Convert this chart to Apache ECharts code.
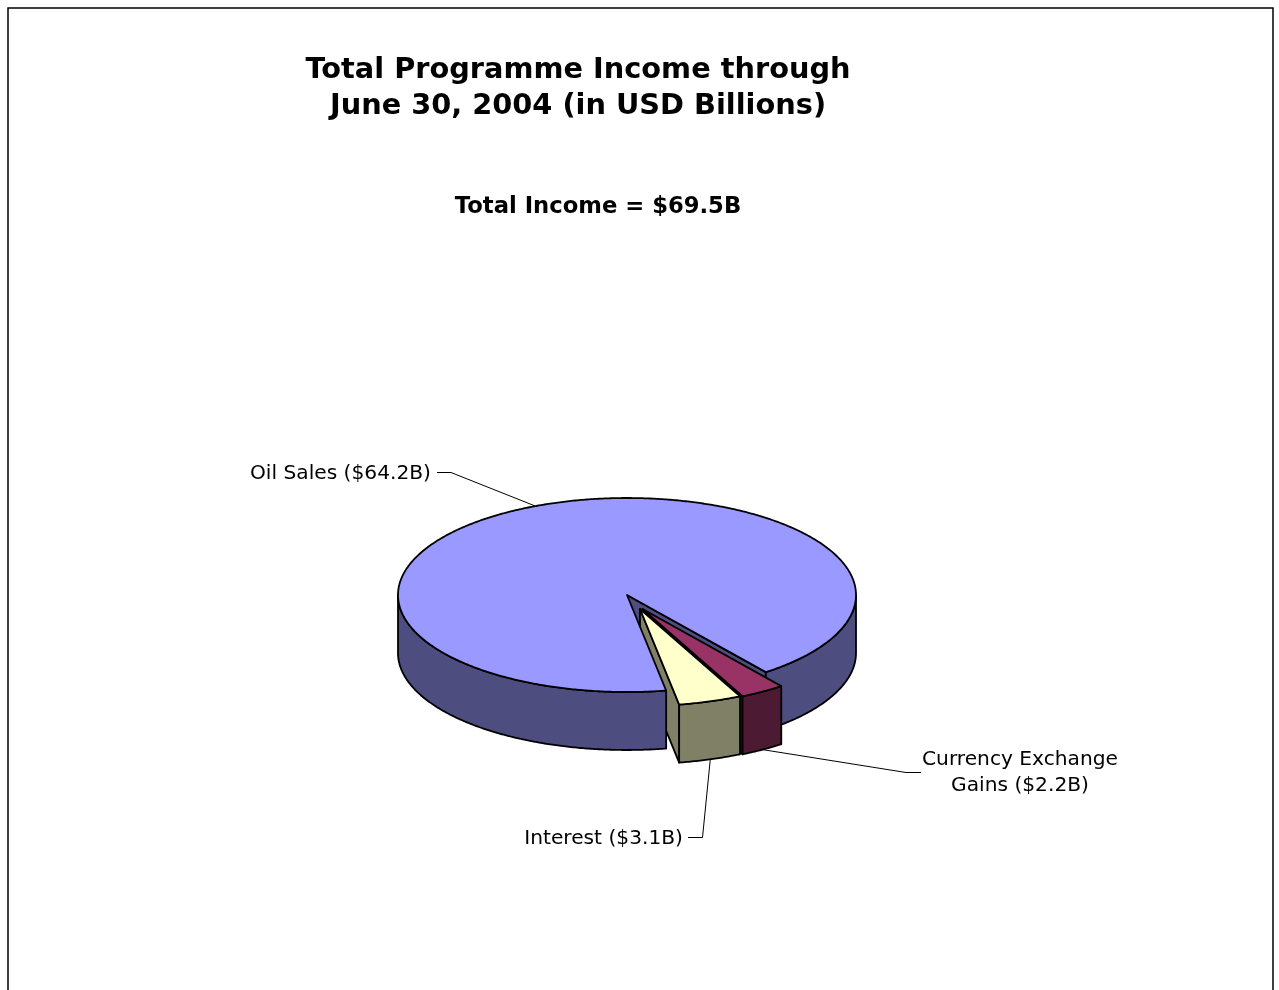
<!DOCTYPE html>
<html>
<head>
<meta charset="utf-8">
<title>Total Programme Income</title>
<script src="https://cdn.jsdelivr.net/npm/echarts@6/dist/echarts.min.js"></script>
<style>
  html, body { margin: 0; padding: 0; background: #fff; overflow: hidden; }
  #chart { width: 1279px; height: 990px; }
</style>
</head>
<body>
<div id="chart"></div>
<script>
// Income sources in USD billions, in clockwise drawing order from the first cut.
const categories = ['Currency Exchange\nGains', 'Interest', 'Oil Sales'];
const incomeValues = [2.2, 3.1, 64.2];
const topColors = ['#993366', '#FFFFCC', '#9999FF'];
const sideColors = ['#4D1A33', '#808066', '#4D4D80'];

const titleText = 'Total Programme Income through\nJune 30, 2004 (in USD Billions)';
const subtitleText = 'Total Income = $69.5B';

// Tilted-disc projection of the pie.
const FONT = '"DejaVu Sans", sans-serif';
const CX = 627, CY = 595, RX = 229, RY = 97, DEPTH = 58;
const START_ANGLE = 52.7;
const EXPLODE = [[15.5, 14], [13, 14], [0, 0]];
const LABEL_SPOTS = [
  { x: 1020, y: 773, align: 'center', elbow: [[921, 772.5], [906, 772.5]] },
  { x: 683, y: 839, align: 'right', elbow: [[688, 837.5], [702.5, 837.5]] },
  { x: 431, y: 474, align: 'right', elbow: [[437, 472.5], [451, 472.5]] }
];

const total = incomeValues.reduce((a, b) => a + b, 0);
const spans = [];
incomeValues.reduce((from, v) => {
  const to = from + v / total * 360;
  spans.push([from, to]);
  return to;
}, START_ANGLE);

function rimPoint(deg, ox, oy, drop) {
  const t = deg * Math.PI / 180;
  return [CX + ox + RX * Math.cos(t), CY + oy + RY * Math.sin(t) + drop];
}

function arc(a, b, ox, oy, drop) {
  const n = Math.max(2, Math.ceil(Math.abs(b - a) * 2));
  const pts = [];
  for (let i = 0; i <= n; i++) pts.push(rimPoint(a + (b - a) * i / n, ox, oy, drop));
  return pts;
}

function face(points, fill, z2) {
  return {
    type: 'polygon', z2: z2,
    shape: { points: points },
    style: { fill: fill, stroke: '#000', lineWidth: 1.8, lineJoin: 'round' }
  };
}

// Paint order: the large slice's hidden side first, then the pulled-out
// slices, and finally the large slice's near wall and top.
const LAYER_BASE = [2, 5, 0];

function renderSlice(params) {
  const i = params.dataIndex;
  const [a, b] = spans[i];
  const [ox, oy] = EXPLODE[i];
  const base = LAYER_BASE[i];
  const apex = [CX + ox, CY + oy];
  const top = topColors[i], side = sideColors[i];
  const isLarge = i === 2;
  const children = [];

  // The cut edge at the end of the sweep faces the viewer.
  const endTop = rimPoint(b, ox, oy, 0);
  const endBottom = rimPoint(b, ox, oy, DEPTH);
  children.push(face([apex, endTop, endBottom, [apex[0], apex[1] + DEPTH]], side, base + 1));

  // Outer wall, only where the rim runs along the near half of the ellipse.
  [0, 360].forEach(turn => {
    const lo = Math.max(a, turn), hi = Math.min(b, turn + 180);
    if (hi <= lo) return;
    const pts = arc(lo, hi, ox, oy, 0).concat(arc(hi, lo, ox, oy, DEPTH));
    const z = isLarge ? (turn === 0 ? 8 : 1) : base + 2;
    children.push(face(pts, side, z));
  });

  const topZ = isLarge ? 9 : base + 3;
  children.push(face([apex].concat(arc(a, b, ox, oy, 0)), top, topZ));

  // Leader line from the label to the middle of the slice's rim.
  const mid = (a + b) / 2;
  const midDeg = ((mid % 360) + 360) % 360;
  const anchor = rimPoint(mid, ox, oy, midDeg < 180 ? DEPTH : 0);
  const spot = LABEL_SPOTS[i];
  children.push({
    type: 'polyline', z2: 10,
    shape: { points: spot.elbow.concat([anchor]) },
    style: { fill: 'none', stroke: '#000', lineWidth: 1 }
  });
  children.push({
    type: 'text', z2: 11,
    style: {
      x: spot.x, y: spot.y,
      text: categories[i] + ' ($' + incomeValues[i].toFixed(1) + 'B)',
      align: spot.align, verticalAlign: 'middle',
      fill: '#000', font: '20.2px ' + FONT, lineHeight: 26
    }
  });
  return { type: 'group', children: children };
}

const chart = echarts.init(document.getElementById('chart'), null, { renderer: 'canvas' });
chart.setOption({
  animation: false,
  backgroundColor: '#fff',
  title: [
    {
      text: titleText, left: 573, top: 48, textAlign: 'center',
      textStyle: { fontFamily: FONT, fontWeight: 'bold', fontSize: 28.8, lineHeight: 36, color: '#000' }
    },
    {
      text: subtitleText, left: 593, top: 191, textAlign: 'center',
      textStyle: { fontFamily: FONT, fontWeight: 'bold', fontSize: 22.7, color: '#000' }
    }
  ],
  graphic: [{
    type: 'rect', z: -1,
    shape: { x: 8, y: 8, width: 1265, height: 1000 },
    style: { fill: 'none', stroke: '#000', lineWidth: 1.5 }
  }],
  series: [{
    type: 'custom',
    coordinateSystem: 'none',
    data: incomeValues,
    clip: false,
    renderItem: renderSlice
  }]
});
</script>
</body>
</html>
